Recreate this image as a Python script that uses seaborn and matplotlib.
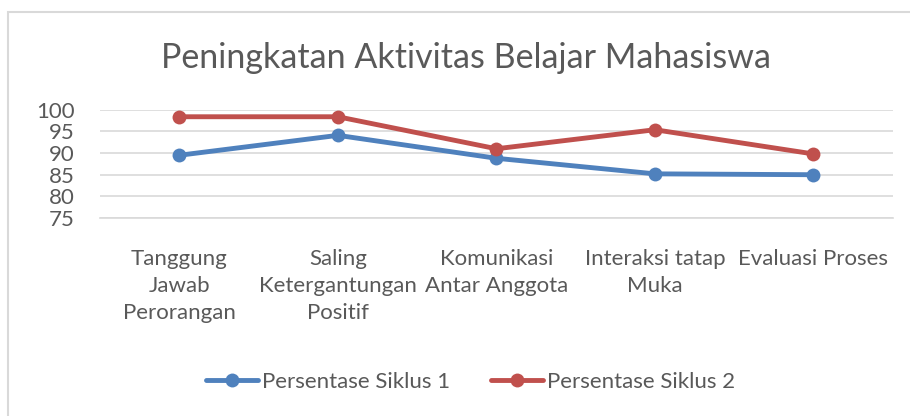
import matplotlib
matplotlib.use("Agg")
import matplotlib.pyplot as plt
import pandas as pd
import seaborn as sns
from matplotlib.patches import Rectangle

categories = [
    "Tanggung\nJawab\nPerorangan",
    "Saling\nKetergantungan\nPositif",
    "Komunikasi\nAntar Anggota",
    "Interaksi tatap\nMuka",
    "Evaluasi Proses",
]
siklus_1 = [89.5, 94.1, 88.8, 85.2, 85.0]
siklus_2 = [98.4, 98.4, 91.0, 95.4, 89.8]
series_names = ["Persentase Siklus 1", "Persentase Siklus 2"]
y_ticks = [75, 80, 85, 90, 95, 100]

df = pd.DataFrame({
    "kategori": categories * 2,
    "nilai": siklus_1 + siklus_2,
    "seri": [series_names[0]] * 5 + [series_names[1]] * 5,
})

sns.set_theme(style="white")
plt.rcParams["font.family"] = ["Lato", "DejaVu Sans"]
TXT = "#595959"
COLORS = ["#4F81BD", "#C0504D"]

fig = plt.figure(figsize=(9.1, 4.16), dpi=100)
# plot area: x 100..893 px, y 110..218 px
ax = fig.add_axes([0.11, 0.476, 0.871, 0.26])

sns.lineplot(data=df, x="kategori", y="nilai", hue="seri", sort=False,
             palette=COLORS, marker="o", markersize=10,
             markeredgewidth=0, linewidth=3.5, ax=ax, legend=False)

ax.set_xlim(-0.5, len(categories) - 0.5)
ax.set_ylim(75, 100)
ax.set_yticks(y_ticks)
ax.yaxis.grid(True, color="#d9d9d9", linewidth=1.2)
ax.set_axisbelow(True)
for s in ["left", "right", "top"]:
    ax.spines[s].set_visible(False)
ax.spines["bottom"].set_color("#d9d9d9")
ax.spines["bottom"].set_linewidth(1.2)
ax.set_xlabel("")
ax.set_ylabel("")
ax.tick_params(axis="both", length=0, colors=TXT, labelsize=16)
ax.tick_params(axis="y", pad=18)
ax.tick_params(axis="x", pad=22)
for lbl in ax.get_xticklabels():
    lbl.set_linespacing(1.45)

fig.text(0.512, 0.86, "Peningkatan Aktivitas Belajar Mahasiswa",
         ha="center", va="center", fontsize=24.5, color=TXT)

handles = [plt.Line2D([], [], color=c, marker="o", markersize=10, linewidth=3.5,
                      markeredgewidth=0) for c in COLORS]
fig.legend(handles, series_names, loc="center", bbox_to_anchor=(0.517, 0.082),
           ncol=2, frameon=False, fontsize=16, handlelength=2.35,
           handletextpad=0.18, columnspacing=1.85, labelcolor=TXT)

fig.patches.append(Rectangle((0.0093, -0.1), 1.2, 1.072, transform=fig.transFigure,
                             fill=False, edgecolor="#d9d9d9", linewidth=1.5))

fig.savefig("out.png", dpi=100)
